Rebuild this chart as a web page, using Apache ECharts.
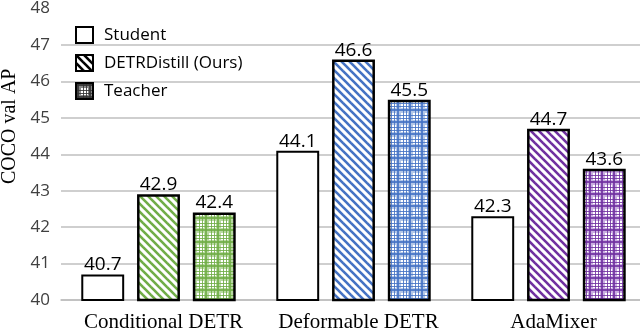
<!DOCTYPE html>
<html><head><meta charset="utf-8">
<script src="https://cdn.jsdelivr.net/npm/echarts@6/dist/echarts.min.js"></script>
<style>html,body{margin:0;padding:0;background:#fff}#c{width:640px;height:330px}</style>
</head><body><div id="c"></div>
<script>
const categories = ['Conditional DETR', 'Deformable DETR', 'AdaMixer'];
const seriesNames = ['Student', 'DETRDistill (Ours)', 'Teacher'];
const studentValues = [40.7, 44.1, 42.3];
const distillValues = [42.9, 46.6, 44.7];
const teacherValues = [42.4, 45.5, 43.6];
const yTicks = { min: 40, max: 48, interval: 1 };

const darkColors = ['#70ad47', '#4472c4', '#7030a0'];
const lightColors = ['#b9d9a3', '#b4c7e7', '#c9aee0'];

function stripe(color) {
  const s = 8, c = document.createElement('canvas');
  c.width = s; c.height = s;
  const x = c.getContext('2d');
  x.fillStyle = '#fff'; x.fillRect(0, 0, s, s);
  x.strokeStyle = color; x.lineWidth = 2.6;
  for (const k of [-s, 0, s]) { x.beginPath(); x.moveTo(-1, k - 1); x.lineTo(s + 1, s + k + 1); x.stroke(); }
  return { image: c, repeat: 'repeat' };
}
function plaid(dark, light) {
  const s = 12, c = document.createElement('canvas');
  c.width = s; c.height = s;
  const x = c.getContext('2d');
  x.fillStyle = '#fff'; x.fillRect(0, 0, s, s);
  x.fillStyle = light;
  x.fillRect(0, 0, s, 5); x.fillRect(0, 0, 5, s);
  x.fillStyle = dark;
  x.globalAlpha = 0.85;
  x.fillRect(1, 0, 2, s); x.fillRect(0, 1, s, 2);
  x.fillRect(7, 0, 1, s); x.fillRect(0, 7, s, 1);
  x.fillRect(10, 0, 1, s); x.fillRect(0, 10, s, 1);
  return { image: c, repeat: 'repeat' };
}

const labelStyle = { show: true, position: 'top', distance: 0, color: '#000', fontSize: 19, fontFamily: 'Open Sans' };

function mk(name, values, styleFn, bw) {
  return {
    name, type: 'bar', barWidth: '22%', barGap: '30%',
    itemStyle: { borderColor: '#000', borderWidth: bw },
    label: labelStyle,
    data: values.map((v, i) => ({ value: v, itemStyle: { color: styleFn(i), borderColor: '#000', borderWidth: bw } }))
  };
}

const chart = echarts.init(document.getElementById('c'));
chart.setOption({
  animation: false,
  grid: { left: 61, right: -6, top: 8.6, bottom: 30, outerBoundsMode: 'none', containLabel: false },
  legend: {
    orient: 'vertical', left: 70, top: 21, itemWidth: 17, itemHeight: 16, itemGap: 10, icon: 'rect',
    textStyle: { fontSize: 17, fontFamily: 'Open Sans', color: '#000', padding: [0, 0, 0, 6] },
    data: [
      { name: seriesNames[0], itemStyle: { color: '#fff', borderColor: '#000', borderWidth: 2 } },
      { name: seriesNames[1], itemStyle: { color: stripe('#000'), borderColor: '#000', borderWidth: 2 } },
      { name: seriesNames[2], itemStyle: { color: plaid('#333', '#888'), borderColor: '#000', borderWidth: 2 } }
    ]
  },
  xAxis: {
    type: 'category', data: categories,
    axisLine: { lineStyle: { color: '#bfbfbf', width: 1.5 } },
    axisTick: { show: false },
    axisLabel: { interval: 0, fontFamily: 'Liberation Serif', fontSize: 21, color: '#000', margin: 12, padding: [0, 0, 0, 10] }
  },
  yAxis: {
    type: 'value', min: yTicks.min, max: yTicks.max, interval: yTicks.interval,
    name: 'COCO val AP', nameLocation: 'middle', nameGap: 38,
    nameTextStyle: { fontFamily: 'Liberation Serif', fontSize: 20, color: '#000', padding: [0, 0, 0, 56] },
    axisLine: { show: false }, axisTick: { show: false },
    axisLabel: { fontFamily: 'Open Sans', fontSize: 17, color: '#404040', margin: 11 },
    splitLine: { showMaxLine: false, lineStyle: { color: '#bfbfbf', width: 1.5 } }
  },
  series: [
    mk(seriesNames[0], studentValues, () => '#fff', 2),
    mk(seriesNames[1], distillValues, i => stripe(darkColors[i]), 2.5),
    mk(seriesNames[2], teacherValues, i => plaid(darkColors[i], lightColors[i]), 2.5)
  ]
});
</script></body></html>
